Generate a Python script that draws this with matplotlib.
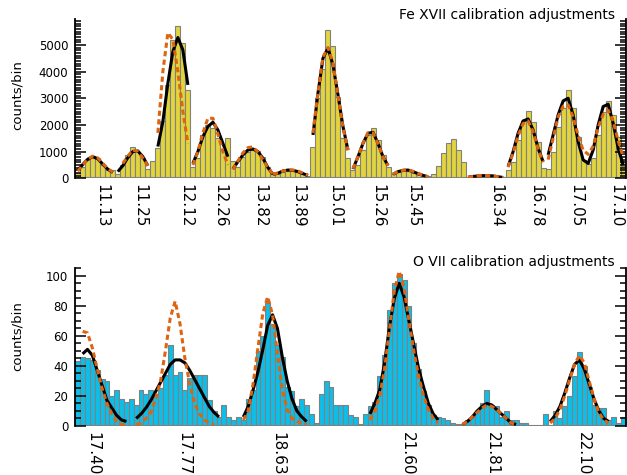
import numpy as np
import matplotlib
matplotlib.use('Agg')
import matplotlib.pyplot as plt
from matplotlib.ticker import MultipleLocator

# Fe XVII panel: counts per bin
fe_counts = [190, 440, 690, 850, 775, 500, 310, 310, 150, 500,
             875, 1190, 975, 750, 350, 660, 1125, 2150, 3500, 5190,
             5690, 5060, 3310, 440, 750, 1625, 2000, 1900, 1500, 1060,
             1500, 660, 440, 810, 1000, 1060, 1025, 810, 440, 150,
             150, 225, 275, 275, 225, 150, 90, 1190, 3000, 4100,
             5560, 4940, 3060, 1500, 750, 310, 500, 1060, 1625, 1875,
             1440, 875, 440, 150, 225, 275, 275, 190, 125, 100,
             100, 150, 475, 940, 1310, 1475, 1060, 625, 60, 50,
             60, 70, 70, 60, 50, 40, 310, 625, 1440, 2150,
             2525, 2125, 1375, 375, 350, 1000, 1940, 2650, 3310, 2650,
             1560, 690, 525, 750, 1625, 2500, 2900, 2375, 1560, 475]
fe_labels = ['11.13', '11.25', '12.12', '12.26', '13.82', '13.89', '15.01',
             '15.26', '15.45', '16.34', '16.78', '17.05', '17.10']
fe_label_bins = [4.8, 12.4, 21.5, 28.4, 36.4, 44.0, 51.3, 60.0, 66.9, 83.6, 91.6, 99.6, 107.5]

# fitted profiles: (first bin, values)
fe_fit_solid = [
    (0, [300, 520, 720, 810, 730, 530, 340, 220]),
    (8, [250, 475, 775, 1000, 1025, 810, 475]),
    (16, [1190, 2125, 3560, 4750, 5275, 4810, 3500]),
    (23, [560, 1000, 1560, 1940, 2100, 1810, 1310, 810]),
    (31, [350, 625, 875, 1060, 1100, 1000, 750, 400, 150]),
    (39, [150, 190, 275, 310, 300, 250, 175, 110]),
    (47, [1625, 3190, 4500, 4875, 4250, 3125, 1940, 1060]),
    (55, [350, 810, 1310, 1690, 1725, 1310, 810, 475]),
    (63, [150, 250, 300, 310, 250, 175, 110, 60]),
    (78, [40, 70, 90, 100, 100, 90, 60, 30]),
    (86, [440, 1000, 1690, 2150, 2225, 1810, 1125, 625]),
    (94, [875, 1625, 2375, 2900, 3000, 2375, 1375, 690, 560, 1060, 2000, 2690, 2775, 2060, 1125, 500]),
]
fe_fit_dashed = [
    (0, [270, 500, 720, 830, 760, 560, 360, 230]),
    (9, [560, 830, 1060, 1000, 760, 470]),
    (16, [1700, 4000, 5450, 5200, 4000, 2500, 1300]),
    (23, [500, 1000, 1700, 2250, 2250, 1650, 1000, 500]),
    (31, [330, 650, 950, 1150, 1180, 980, 700, 400, 160]),
    (39, [160, 200, 270, 310, 310, 270, 200, 120]),
    (47, [1700, 3200, 4550, 4900, 4300, 3100, 1900, 1050]),
    (55, [360, 820, 1320, 1700, 1700, 1290, 800, 470]),
    (63, [160, 250, 300, 320, 260, 180, 110, 60]),
    (78, [40, 70, 95, 110, 100, 85, 60, 30]),
    (86, [420, 950, 1600, 2050, 2150, 1750, 1100, 600]),
    (94, [700, 1500, 2300, 2700, 2750, 2300, 1600, 1050, 900, 1200, 1900, 2400, 2550, 2150, 1400, 800]),
]

# O VII panel
ov_counts = [43, 46, 45, 44, 37, 31, 30, 20, 24, 18,
             16, 18, 14, 24, 21, 24, 21, 25, 34, 54,
             34, 36, 24, 32, 34, 34, 34, 17, 10, 6,
             14, 6, 4, 6, 4, 18, 24,
             50, 60, 82, 68, 54, 46, 26, 23, 13, 18,
             14, 8, 2, 21, 30, 26, 14, 14, 14, 7,
             6, 1, 8, 13, 16, 33, 47, 77, 95, 101,
             97, 80, 55, 38, 23, 14, 7, 6,
             5, 4, 2, 1, 1, 4, 6, 10, 15, 24,
             14, 13, 6, 10, 4, 4, 2, 2, 0, 0,
             0, 8, 0, 10, 5, 13, 20, 33, 49, 40,
             26, 14, 12, 12, 4, 6, 2, 6]
ov_labels = ['17.40', '17.77', '18.63', '21.60', '21.81', '22.10']
ov_label_bins = [3.1, 21.7, 41.1, 67.6, 85.2, 103.9]

ov_fit_solid = [
    (1, [48, 51, 47, 37, 27, 17, 12, 7, 4, 3]),
    (12, [5, 8, 12, 17, 23, 29, 35, 41, 44, 44, 42, 37, 31, 25, 19, 13, 9, 6]),
    (34, [6, 13, 24, 36, 51, 67, 74, 65, 46, 30, 18, 10, 6, 3]),
    (60, [8, 15, 24, 42, 66, 85, 95, 86, 70, 54, 38, 26, 15, 8, 4]),
    (79, [1, 3, 6, 10, 13, 15, 14, 11, 8, 5, 2, 1]),
    (97, [3, 7, 13, 22, 32, 41, 44, 38, 28, 18, 10, 5, 3]),
]
ov_fit_dashed = [
    (1, [63, 62, 52, 38, 25, 15, 8, 3, 1, 0.5]),
    (12, [1, 2, 5, 9, 18, 30, 50, 72, 83, 68, 45, 28, 15, 8, 4, 2, 1]),
    (34, [4, 10, 28, 52, 75, 86, 74, 48, 24, 11, 5, 3, 2, 1]),
    (60, [4, 10, 20, 38, 64, 90, 103, 92, 70, 50, 33, 20, 11, 5, 2]),
    (79, [1, 3, 6, 9, 12, 14, 13, 11, 8, 5, 2, 1]),
    (97, [2, 5, 11, 20, 31, 41, 47, 42, 30, 18, 9, 4, 2]),
]

ORANGE = '#DD6411'


def draw_panel(ax, counts, color, solid, dashed, ticks, labels, ymax, major, minor):
    n = len(counts)
    ax.bar(np.arange(n), counts, width=1.0, color=color, edgecolor='#808080', linewidth=0.8)
    ax.axhline(0, color='#808080', lw=1.5, zorder=1.5)
    for start, vals in solid:
        ax.plot(np.arange(start, start + len(vals)), vals, color='black', lw=2.2,
                solid_capstyle='butt')
    for start, vals in dashed:
        ax.plot(np.arange(start, start + len(vals)), vals, color=ORANGE, lw=2.2,
                linestyle=(0, (1.7, 1.1)))
    ax.set_xlim(-0.5, n - 0.5)
    ax.set_ylim(0, ymax)
    ax.set_xticks(ticks)
    ax.set_xticklabels(labels, rotation=270, fontsize=11)
    ax.tick_params(axis='x', length=0, pad=4)
    ax.yaxis.set_major_locator(MultipleLocator(major))
    ax.yaxis.set_minor_locator(MultipleLocator(minor))
    ax.tick_params(axis='y', which='both', direction='in', left=True, right=True,
                   width=1.1, labelsize=8.5, pad=5)
    ax.tick_params(axis='y', which='major', length=8)
    ax.tick_params(axis='y', which='minor', length=4.5)
    ax.spines['top'].set_visible(False)
    ax.spines['bottom'].set_visible(False)
    for s in ('left', 'right'):
        ax.spines[s].set_linewidth(1.3)


fig = plt.figure(figsize=(6.27, 4.75), dpi=100)
ax1 = fig.add_axes([0.1201, 0.6246, 0.8778, 0.3354])
ax2 = fig.add_axes([0.1201, 0.1032, 0.8778, 0.3320])

draw_panel(ax1, fe_counts, '#E2D43C', fe_fit_solid, fe_fit_dashed,
           fe_label_bins, fe_labels, 5970, 1000, 100)
draw_panel(ax2, ov_counts, '#0CBFEA', ov_fit_solid, ov_fit_dashed,
           ov_label_bins, ov_labels, 105, 20, 5)

fig.text(615 / 627, 1 - 15 / 475, 'Fe XVII calibration adjustments',
         ha='right', va='center', fontsize=10)
fig.text(615 / 627, 1 - 262 / 475, 'O VII calibration adjustments',
         ha='right', va='center', fontsize=10)
fig.text(17 / 627, 1 - 95 / 475, 'counts/bin', rotation=90, ha='center', va='center', fontsize=9.5)
fig.text(17 / 627, 1 - 336 / 475, 'counts/bin', rotation=90, ha='center', va='center', fontsize=9.5)

fig.savefig('out.png', dpi=100)
